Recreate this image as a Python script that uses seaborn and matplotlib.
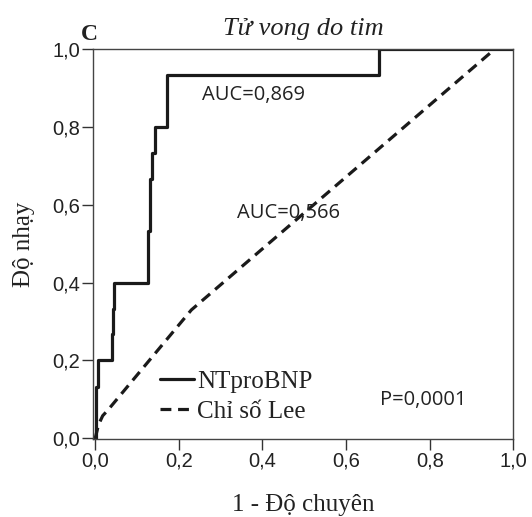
import numpy as np
import pandas as pd
import matplotlib
matplotlib.use("Agg")
import matplotlib.pyplot as plt
import seaborn as sns

# --- data ---
nt_fpr = [0.0, 0.002, 0.002, 0.006, 0.006, 0.040, 0.040, 0.042, 0.042, 0.045, 0.045,
          0.127, 0.127, 0.130, 0.130, 0.135, 0.135, 0.142, 0.142, 0.172, 0.172,
          0.678, 0.678, 1.0]
nt_tpr = [0.0, 0.0, 0.133, 0.133, 0.2, 0.2, 0.267, 0.267, 0.333, 0.333, 0.4,
          0.4, 0.533, 0.533, 0.667, 0.667, 0.733, 0.733, 0.8, 0.8, 0.933,
          0.933, 1.0, 1.0]
lee_fpr = [0.0, 0.008, 0.018, 0.030, 0.23, 0.955, 1.0]
lee_tpr = [0.0, 0.035, 0.058, 0.072, 0.33, 1.0, 1.0]

series_names = ["NTproBNP", "Chỉ số Lee"]
auc_labels = ["AUC=0,869", "AUC=0,566"]
p_label = "P=0,0001"
title = "Tử vong do tim"
panel = "C"
xlabel = "1 - Độ chuyên"
ylabel = "Độ nhạy"
ticks = [0.0, 0.2, 0.4, 0.6, 0.8, 1.0]
tick_labels = ["0,0", "0,2", "0,4", "0,6", "0,8", "1,0"]

sns.set_theme(style="white")
plt.rcParams["font.family"] = ["Liberation Serif", "DejaVu Serif"]

fig = plt.figure(figsize=(5.32, 5.17), dpi=100)
ax = fig.add_axes([0.1742, 0.1515, 0.9649 - 0.1742, 0.9046 - 0.1515])

df_nt = pd.DataFrame({"fpr": nt_fpr, "tpr": nt_tpr})
df_lee = pd.DataFrame({"fpr": lee_fpr, "tpr": lee_tpr})

sns.lineplot(data=df_nt, x="fpr", y="tpr", sort=False, estimator=None, ax=ax,
             color="#1a1a1a", linewidth=2.3, label=series_names[0])
sns.lineplot(data=df_lee, x="fpr", y="tpr", sort=False, estimator=None, ax=ax,
             color="#1a1a1a", linewidth=2.3, linestyle=(0, (3.4, 2.1)),
             label=series_names[1])

ax.set_xlim(-0.006, 1.0)
ax.set_ylim(-0.001, 1.0)
ax.set_xticks(ticks)
ax.set_yticks(ticks)
ax.set_xticklabels(tick_labels, fontfamily="Liberation Sans", fontsize=14.5)
ax.set_yticklabels(tick_labels, fontfamily="Liberation Sans", fontsize=14.5)
ax.tick_params(axis="both", direction="out", length=8, width=1.0, color="#333333",
               pad=1, bottom=True, left=True, labelcolor="#222222")
for s in ax.spines.values():
    s.set_color("#444444")
    s.set_linewidth(1.0)

ax.set_xlabel(xlabel, fontsize=18, color="#222222")
ax.xaxis.set_label_coords(0.5, -0.143)
ax.set_ylabel(ylabel, fontsize=18, color="#222222")
ax.yaxis.set_label_coords(-0.138, 0.5)
ax.set_title(title, fontsize=19, fontstyle="italic", color="#222222", pad=10)
fig.text(81 / 532, 1 - 40 / 517, panel, fontsize=17, fontweight="bold",
         color="#222222", ha="left", va="baseline")

ax.text(0.259, 0.883, auc_labels[0], transform=ax.transAxes, fontsize=14.5,
        fontfamily="Open Sans", color="#222222", va="center", ha="left")
ax.text(0.342, 0.58, auc_labels[1], transform=ax.transAxes, fontsize=14.5,
        fontfamily="Open Sans", color="#222222", va="center", ha="left")
ax.text(0.683, 0.099, p_label, transform=ax.transAxes, fontsize=14.5,
        fontfamily="Open Sans", color="#222222", va="center", ha="left")

leg = ax.legend(loc="lower left", bbox_to_anchor=(0.118, -0.005), frameon=False,
                fontsize=18, handlelength=1.35, handletextpad=0.15, labelspacing=0.3,
                borderpad=0.2)
for t in leg.get_texts():
    t.set_color("#222222")

fig.savefig("out.png", dpi=100)
